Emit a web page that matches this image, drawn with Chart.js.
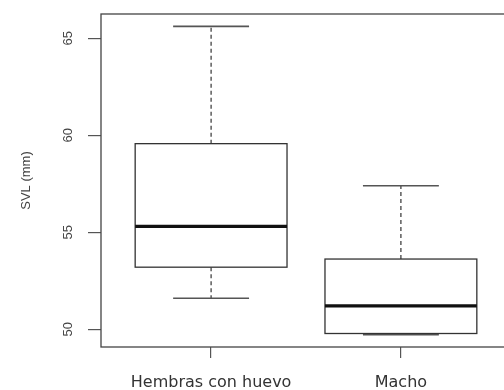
<!DOCTYPE html>
<html>
<head>
<meta charset="utf-8">
<script src="https://cdn.jsdelivr.net/npm/chart.js@4"></script>
<style>
  html, body { margin: 0; padding: 0; background: #fff; overflow: hidden; }
  #wrap { width: 504px; height: 390px; overflow: hidden; }
</style>
</head>
<body>
<div id="wrap"><canvas id="myChart" width="530" height="390"></canvas></div>
<script>
var categories = ['Hembras con huevo', 'Macho'];
var whiskerLow  = [51.6, 49.72];
var q1          = [53.2, 49.78];
var median      = [55.3, 51.2];
var q3          = [59.57, 53.62];
var whiskerHigh = [65.62, 57.4];
var yTicks = [50, 55, 60, 65];
var yTitle = 'SVL (mm)';

// R style limits: data range plus 4% each side
var lo = Math.min.apply(null, whiskerLow), hi = Math.max.apply(null, whiskerHigh);
var ext = (hi - lo) * 0.04;

var boxPlugin = {
  id: 'boxes',
  afterDraw: function(chart) {
    var ctx = chart.ctx, x = chart.scales.x, y = chart.scales.y, a = chart.chartArea;
    ctx.save();
    for (var i = 0; i < categories.length; i++) {
      var c = x.getPixelForValue(i + 1);
      var hw = x.getPixelForValue(1.4) - x.getPixelForValue(1);
      var cw = x.getPixelForValue(1.2) - x.getPixelForValue(1);
      var yl = y.getPixelForValue(whiskerLow[i]), y1 = y.getPixelForValue(q1[i]);
      var ym = y.getPixelForValue(median[i]), y3 = y.getPixelForValue(q3[i]);
      var yh = y.getPixelForValue(whiskerHigh[i]);
      // whiskers
      ctx.strokeStyle = '#333'; ctx.lineWidth = 1.2; ctx.setLineDash([4, 3]);
      ctx.beginPath();
      ctx.moveTo(c, y3); ctx.lineTo(c, yh);
      ctx.moveTo(c, y1); ctx.lineTo(c, yl);
      ctx.stroke();
      ctx.setLineDash([]);
      // caps
      ctx.strokeStyle = '#555'; ctx.lineWidth = 1.6;
      ctx.beginPath();
      ctx.moveTo(c - cw, yh); ctx.lineTo(c + cw, yh);
      ctx.moveTo(c - cw, yl); ctx.lineTo(c + cw, yl);
      ctx.stroke();
      // box
      ctx.fillStyle = '#fff'; ctx.fillRect(c - hw, y3, hw * 2, y1 - y3);
      ctx.strokeStyle = '#333'; ctx.lineWidth = 1.3;
      ctx.strokeRect(c - hw, y3, hw * 2, y1 - y3);
      // median
      ctx.strokeStyle = '#111'; ctx.lineWidth = 3.2;
      ctx.beginPath(); ctx.moveTo(c - hw, ym); ctx.lineTo(c + hw, ym); ctx.stroke();
    }
    // frame
    ctx.strokeStyle = '#444'; ctx.lineWidth = 1.3;
    ctx.strokeRect(a.left, a.top, a.right - a.left, a.bottom - a.top);

    // y tick labels (rotated, like R)
    ctx.fillStyle = '#444';
    ctx.font = '13px "Liberation Sans", Arial, sans-serif';
    ctx.textAlign = 'center'; ctx.textBaseline = 'alphabetic';
    yTicks.forEach(function(v) {
      ctx.save();
      ctx.translate(72, y.getPixelForValue(v));
      ctx.rotate(-Math.PI / 2);
      ctx.fillText(String(v), 0, 0);
      ctx.restore();
    });
    ctx.save();
    ctx.translate(30, (a.top + a.bottom) / 2);
    ctx.rotate(-Math.PI / 2);
    ctx.fillText(yTitle, 0, 0);
    ctx.restore();

    // x category labels
    ctx.font = '16px "DejaVu Sans", sans-serif';
    ctx.fillStyle = '#333';
    categories.forEach(function(cat, i) {
      ctx.fillText(cat, x.getPixelForValue(i + 1), 387);
    });
    ctx.restore();
  }
};

var ctx = document.getElementById('myChart');
var myChart = new Chart(ctx, {
  type: 'scatter',
  data: { datasets: [] },
  plugins: [boxPlugin],
  options: {
    responsive: false,
    animation: false,
    devicePixelRatio: 1,
    layout: { padding: { top: 14, right: 19, left: 0, bottom: 0 } },
    plugins: { legend: { display: false }, tooltip: { enabled: false } },
    scales: {
      x: {
        type: 'linear',
        min: 0.42, max: categories.length + 0.58,
        afterFit: function(s) { s.height = 43; },
        afterBuildTicks: function(s) { s.ticks = categories.map(function(c, i) { return { value: i + 1 }; }); },
        ticks: { display: false },
        grid: { drawOnChartArea: false, drawTicks: true, tickLength: 11, color: '#555', lineWidth: 1.2 },
        border: { display: false }
      },
      y: {
        min: lo - ext, max: hi + ext,
        afterFit: function(s) { s.width = 101; },
        afterBuildTicks: function(s) { s.ticks = yTicks.map(function(v) { return { value: v }; }); },
        ticks: { display: false },
        grid: { drawOnChartArea: false, drawTicks: true, tickLength: 13, color: '#555', lineWidth: 1.2 },
        border: { display: false }
      }
    }
  }
});
</script>
</body>
</html>
